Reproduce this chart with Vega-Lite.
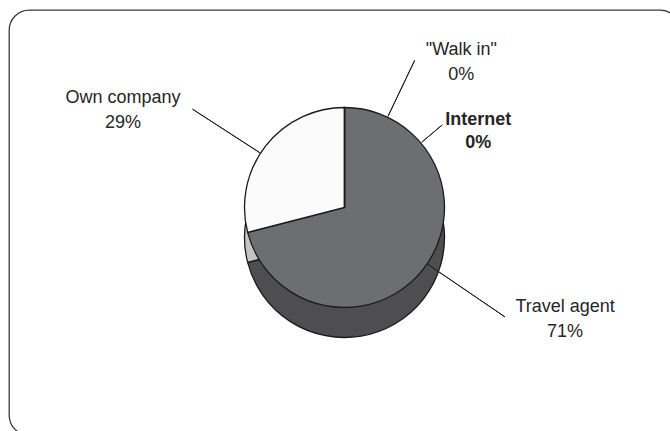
{
  "$schema": "https://vega.github.io/schema/vega-lite/v6.json",
  "autosize": {"type": "fit", "contains": "padding"},
  "width": 670,
  "height": 431,
  "padding": {"left": 9, "top": 10, "right": -10, "bottom": -4},
  "background": "white",
  "view": {"stroke": "#3a3a3a", "strokeWidth": 1.3, "cornerRadius": 20, "fill": "white"},
  "config": {
    "view": {"stroke": "#3a3a3a", "strokeWidth": 1.3, "cornerRadius": 20, "fill": "white"},
    "text": {"font": "Liberation Sans", "fontSize": 18, "color": "#262626", "align": "center", "baseline": "alphabetic"}
  },
  "data": {
    "values": [
      {"source": "Travel agent", "share": 0.71},
      {"source": "Own company", "share": 0.29},
      {"source": "\"Walk in\"", "share": 0},
      {"source": "Internet", "share": 0}
    ]
  },
  "resolve": {"scale": {"color": "independent"}},
  "layer": [
    {
      "mark": {"type": "arc", "radius": 100, "yOffset": 15, "stroke": "#1a1a1a", "strokeWidth": 1.3},
      "encoding": {
        "theta": {"field": "share", "type": "quantitative", "stack": true, "scale": {"domain": [0, 1]}},
        "order": {"field": "share", "sort": "descending"},
        "color": {"field": "source", "type": "nominal", "legend": null,
          "scale": {"domain": ["Travel agent", "Own company", "\"Walk in\"", "Internet"], "range": ["#4e4e50", "#c4c4c4", "#4e4e50", "#4e4e50"]}}
      }
    },
    {
      "mark": {"type": "arc", "radius": 100, "yOffset": -15, "stroke": "#1a1a1a", "strokeWidth": 1.3},
      "encoding": {
        "theta": {"field": "share", "type": "quantitative", "stack": true},
        "order": {"field": "share", "sort": "descending"},
        "color": {"field": "source", "type": "nominal", "legend": null,
          "scale": {"domain": ["Travel agent", "Own company", "\"Walk in\"", "Internet"], "range": ["#6d6e71", "#fbfbfb", "#6d6e71", "#6d6e71"]}}
      }
    },
    {
      "transform": [{"filter": "datum.source === 'Travel agent'"}],
      "mark": {"type": "arc", "radius": 194, "radius2": 101, "yOffset": -15, "filled": false, "stroke": "#222222", "strokeWidth": 1, "thetaOffset": -2.2917, "theta2Offset": -2.2917},
      "encoding": {"theta": {"field": "share", "type": "quantitative", "stack": null}, "theta2": {"field": "share"}}
    },
    {
      "transform": [{"filter": "datum.source === 'Own company'"}],
      "mark": {"type": "arc", "radius": 181, "radius2": 101, "yOffset": -15, "filled": false, "stroke": "#222222", "strokeWidth": 1, "thetaOffset": 3.4645, "theta2Offset": 3.4645},
      "encoding": {"theta": {"field": "share", "type": "quantitative", "stack": null}, "theta2": {"field": "share"}}
    },
    {
      "transform": [{"filter": "datum.source === '\"Walk in\"'"}],
      "mark": {"type": "arc", "radius": 163, "radius2": 101, "yOffset": -15, "filled": false, "stroke": "#222222", "strokeWidth": 1, "thetaOffset": 0.4451, "theta2Offset": 0.4451},
      "encoding": {"theta": {"field": "share", "type": "quantitative", "stack": null}, "theta2": {"field": "share"}}
    },
    {
      "transform": [{"filter": "datum.source === 'Internet'"}],
      "mark": {"type": "arc", "radius": 128, "radius2": 101, "yOffset": -15, "filled": false, "stroke": "#222222", "strokeWidth": 1, "thetaOffset": 0.8692, "theta2Offset": 0.8692},
      "encoding": {"theta": {"field": "share", "type": "quantitative", "stack": null}, "theta2": {"field": "share"}}
    },
    {
      "transform": [{"filter": "datum.source === 'Travel agent'"}],
      "mark": {"type": "text", "radius": 244, "yOffset": -15, "thetaOffset": -0.218},
      "encoding": {"theta": {"field": "share", "type": "quantitative", "stack": true}, "text": {"field": "source"}}
    },
    {
      "transform": [{"filter": "datum.source === 'Travel agent'"}],
      "mark": {"type": "text", "radius": 244, "yOffset": -15, "thetaOffset": -0.218, "dy": 25},
      "encoding": {"theta": {"field": "share", "type": "quantitative", "stack": true}, "text": {"field": "share", "type": "quantitative", "format": ".0%"}}
    },
    {
      "transform": [{"filter": "datum.source === 'Own company'"}],
      "mark": {"type": "text", "radius": 245, "yOffset": -15, "thetaOffset": 4.243},
      "encoding": {"theta": {"field": "share", "type": "quantitative", "stack": true}, "text": {"field": "source"}}
    },
    {
      "transform": [{"filter": "datum.source === 'Own company'"}],
      "mark": {"type": "text", "radius": 245, "yOffset": -15, "thetaOffset": 4.243, "dy": 25},
      "encoding": {"theta": {"field": "share", "type": "quantitative", "stack": true}, "text": {"field": "share", "type": "quantitative", "format": ".0%"}}
    },
    {
      "transform": [{"filter": "datum.source === '\"Walk in\"'"}],
      "mark": {"type": "text", "radius": 192, "yOffset": -15, "thetaOffset": 0.654},
      "encoding": {"theta": {"field": "share", "type": "quantitative", "stack": true}, "text": {"field": "source"}}
    },
    {
      "transform": [{"filter": "datum.source === '\"Walk in\"'"}],
      "mark": {"type": "text", "radius": 192, "yOffset": -15, "thetaOffset": 0.654, "dy": 25},
      "encoding": {"theta": {"field": "share", "type": "quantitative", "stack": true}, "text": {"field": "share", "type": "quantitative", "format": ".0%"}}
    },
    {
      "transform": [{"filter": "datum.source === 'Internet'"}],
      "mark": {"type": "text", "radius": 157, "yOffset": -15, "thetaOffset": 1.019, "fontWeight": "bold"},
      "encoding": {"theta": {"field": "share", "type": "quantitative", "stack": true}, "text": {"field": "source"}}
    },
    {
      "transform": [{"filter": "datum.source === 'Internet'"}],
      "mark": {"type": "text", "radius": 157, "yOffset": -15, "thetaOffset": 1.019, "dy": 23, "fontWeight": "bold"},
      "encoding": {"theta": {"field": "share", "type": "quantitative", "stack": true}, "text": {"field": "share", "type": "quantitative", "format": ".0%"}}
    }
  ]
}
